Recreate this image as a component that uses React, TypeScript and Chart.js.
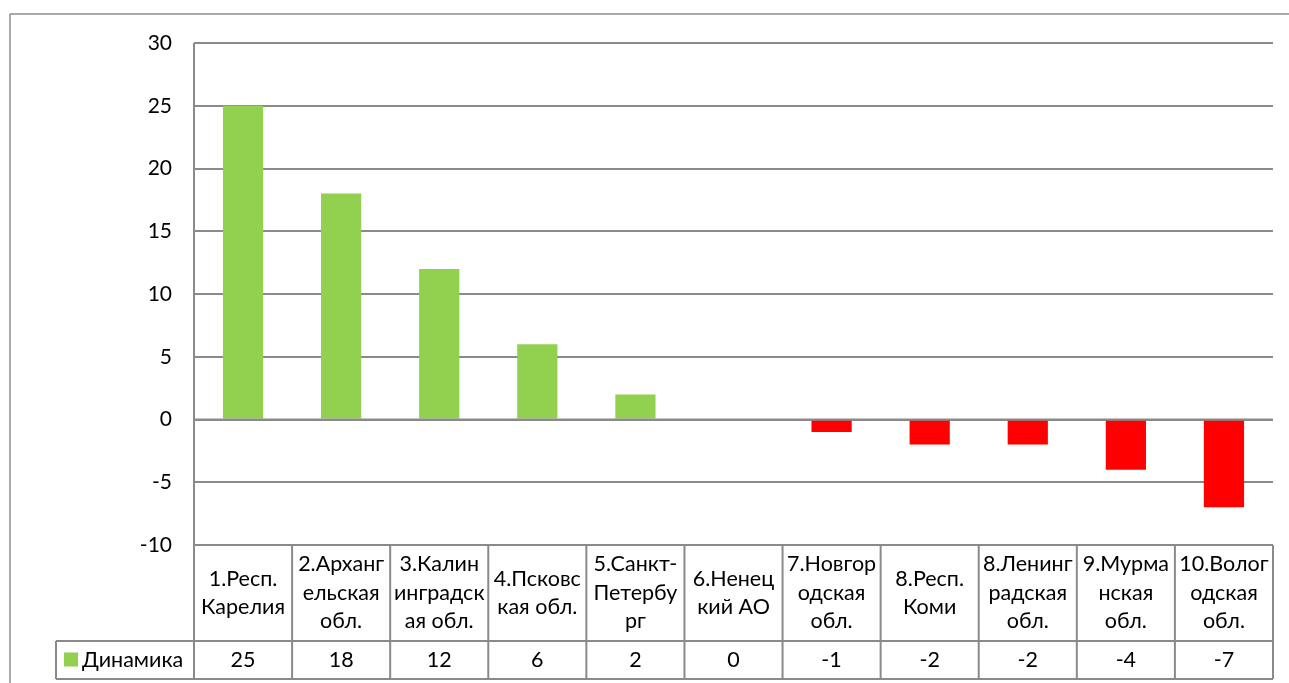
import React, { useEffect, useRef } from "react";
import { Chart, registerables } from "chart.js";

Chart.register(...registerables);

// Category labels, split into lines exactly as in the source table
const categories: string[][] = [
  ["1.Респ.", "Карелия"],
  ["2.Арханг", "ельская", "обл."],
  ["3.Калин", "инградск", "ая обл."],
  ["4.Псковс", "кая обл."],
  ["5.Санкт-", "Петербу", "рг"],
  ["6.Ненец", "кий АО"],
  ["7.Новгор", "одская", "обл."],
  ["8.Респ.", "Коми"],
  ["8.Ленинг", "радская", "обл."],
  ["9.Мурма", "нская", "обл."],
  ["10.Волог", "одская", "обл."],
];

const seriesName = "Динамика";
const values: number[] = [25, 18, 12, 6, 2, 0, -1, -2, -2, -4, -7];

const yMin = -10;
const yMax = 30;
const yStep = 5;

const POS_COLOR = "#92D050";
const NEG_COLOR = "#FF0000";
const GRID = "#8a8a8a";
const FONT = "Lato, 'Noto Sans', sans-serif";
const FONT_SIZE = 21.5;
const TICK_SIZE = 21;
const LINE_H = 28.5;

const tablePlugin = {
  id: "dataTable",
  beforeDraw(chart: any) {
    const { ctx } = chart;
    ctx.save();
    ctx.fillStyle = "#ffffff";
    ctx.fillRect(0, 0, chart.width, chart.height);
    ctx.restore();
  },
  afterDatasetsDraw(chart: any) {
    const { ctx, chartArea: ca, scales } = chart;
    const xs = scales.x;
    const ys = scales.y;
    const n = categories.length;
    const w = (ca.right - ca.left) / n;
    const rowTop = ca.bottom;
    const rowMid = rowTop + 96;
    const rowBot = rowMid + 38;
    const legendLeft = 56;

    const line = (x1: number, y1: number, x2: number, y2: number) => {
      ctx.beginPath();
      ctx.moveTo(x1, y1);
      ctx.lineTo(x2, y2);
      ctx.stroke();
    };

    ctx.save();
    // outer chart border
    ctx.strokeStyle = "#8c8c8c";
    ctx.lineWidth = 1.5;
    line(10, 14, chart.width, 14);
    line(10, 14, 10, chart.height);

    ctx.strokeStyle = GRID;
    ctx.lineWidth = 2;
    const y0 = ys.getPixelForValue(0);
    line(ca.left, y0, ca.right, y0);
    line(ca.left, ca.top, ca.left, rowBot);
    line(ca.left, rowTop, ca.right, rowTop);
    line(legendLeft, rowMid, ca.right, rowMid);
    line(legendLeft, rowBot, ca.right, rowBot);
    line(legendLeft, rowMid, legendLeft, rowBot);
    for (let i = 0; i < n; i++) {
      const bx = xs.getPixelForValue(i) + w / 2;
      line(bx, rowTop, bx, rowBot);
    }

    ctx.fillStyle = "#000000";
    ctx.font = `${FONT_SIZE}px ${FONT}`;
    ctx.textAlign = "center";
    ctx.textBaseline = "middle";
    const catMid = (rowTop + rowMid) / 2;
    const valMid = (rowMid + rowBot) / 2;
    for (let i = 0; i < n; i++) {
      const cx = xs.getPixelForValue(i);
      const lines = categories[i];
      lines.forEach((t, k) => {
        ctx.fillText(t, cx, catMid + (k - (lines.length - 1) / 2) * LINE_H);
      });
      ctx.fillText(String(values[i]), cx, valMid);
    }

    // legend key
    ctx.fillStyle = POS_COLOR;
    ctx.fillRect(64, valMid - 7.5, 14, 14);
    ctx.fillStyle = "#000000";
    ctx.textAlign = "left";
    ctx.fillText(seriesName, 82, valMid);
    ctx.restore();
  },
};

export default function App() {
  const ref = useRef<HTMLCanvasElement | null>(null);

  useEffect(() => {
    if (!ref.current) return;
    const chart = new Chart(ref.current, {
      type: "bar",
      data: {
        labels: categories.map((c) => c.join(" ")),
        datasets: [
          {
            label: seriesName,
            data: values,
            backgroundColor: values.map((v) => (v >= 0 ? POS_COLOR : NEG_COLOR)),
            borderWidth: 0,
            categoryPercentage: 1,
            barPercentage: 0.41,
          },
        ],
      },
      options: {
        responsive: false,
        animation: false,
        devicePixelRatio: 1,
        layout: { padding: { top: 43, right: 16, bottom: 138, left: 0 } },
        plugins: {
          legend: { display: false },
          tooltip: { enabled: false },
        },
        scales: {
          x: { display: false },
          y: {
            min: yMin,
            max: yMax,
            afterFit: (scale: any) => {
              scale.width = 194;
            },
            ticks: {
              stepSize: yStep,
              color: "#000000",
              padding: 22,
              font: { family: FONT, size: TICK_SIZE },
            },
            grid: {
              color: GRID,
              lineWidth: 2,
              drawTicks: false,
            },
            border: { display: false },
          },
        },
      },
      plugins: [tablePlugin],
    });
    return () => chart.destroy();
  }, []);

  return (
    <canvas
      ref={ref}
      width={1289}
      height={683}
      style={{ position: "fixed", left: 0, top: 0, display: "block" }}
    />
  );
}
